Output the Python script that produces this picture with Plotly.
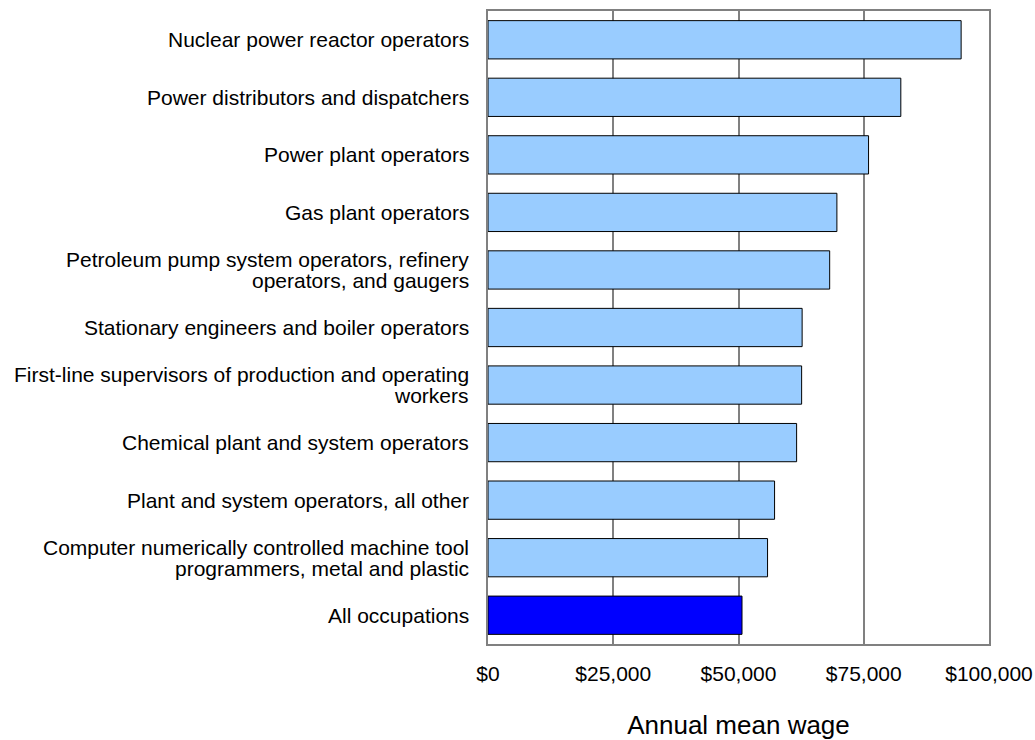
import plotly.graph_objects as go

occupations = [
    "Nuclear power reactor operators",
    "Power distributors and dispatchers",
    "Power plant operators",
    "Gas plant operators",
    "Petroleum pump system operators, refinery<br>operators, and gaugers",
    "Stationary engineers and boiler operators",
    "First-line supervisors of production and operating<br>workers",
    "Chemical plant and system operators",
    "Plant and system operators, all other",
    "Computer numerically controlled machine tool<br>programmers, metal and plastic",
    "All occupations",
]
wages = [94440, 82400, 75960, 69640, 68200, 62700, 62600, 61600, 57200, 55800, 50700]
bar_colors = ["#99CCFF"] * 10 + ["#0000FF"]

tick_vals = [0, 25000, 50000, 75000, 100000]
tick_text = ["$0", "$25,000", "$50,000", "$75,000", "$100,000"]

FONT = "Liberation Sans, Arial, sans-serif"

fig = go.Figure(
    go.Bar(
        x=wages,
        y=occupations,
        orientation="h",
        marker=dict(color=bar_colors, line=dict(color="#000000", width=1)),
        width=0.665,
        hoverinfo="x+y",
    )
)

# category labels drawn as annotations so that two-line labels get tight line spacing
annotations = []
for cat in occupations:
    lines = cat.split("<br>")
    n = len(lines)
    for i, ln in enumerate(lines):
        shift = (n - 1) * 10.5 - i * 21
        annotations.append(
            dict(
                text=ln,
                xref="paper",
                x=0,
                yref="y",
                y=cat,
                xanchor="right",
                yanchor="middle",
                xshift=-17,
                yshift=shift,
                showarrow=False,
                font=dict(family=FONT, size=21, color="#000000"),
            )
        )

fig.update_layout(
    width=1035,
    height=740,
    autosize=False,
    margin=dict(l=488, r=46, t=11, b=96),
    paper_bgcolor="white",
    plot_bgcolor="white",
    font=dict(family=FONT, size=21, color="#000000"),
    showlegend=False,
    bargap=0.335,
    annotations=annotations,
)

fig.update_xaxes(
    range=[0, 100000],
    tickvals=tick_vals,
    ticktext=tick_text,
    showgrid=True,
    gridcolor="#808080",
    gridwidth=1.5,
    showline=True,
    linecolor="#808080",
    linewidth=2,
    mirror=True,
    zeroline=False,
    ticks="",
    ticklabelstandoff=10,
    ticklabeloverflow="allow",
    automargin=False,
    title=dict(text="Annual mean wage", font=dict(size=26), standoff=32),
)

fig.update_yaxes(
    autorange="reversed",
    showgrid=False,
    showline=True,
    linecolor="#808080",
    linewidth=2,
    mirror=True,
    ticks="",
    showticklabels=False,
    automargin=False,
)

fig.write_html(
    "out.html",
    config={"responsive": False, "displayModeBar": False},
    post_script="document.body.style.margin='0px';document.documentElement.style.overflow='hidden';document.body.style.overflow='hidden';",
)
